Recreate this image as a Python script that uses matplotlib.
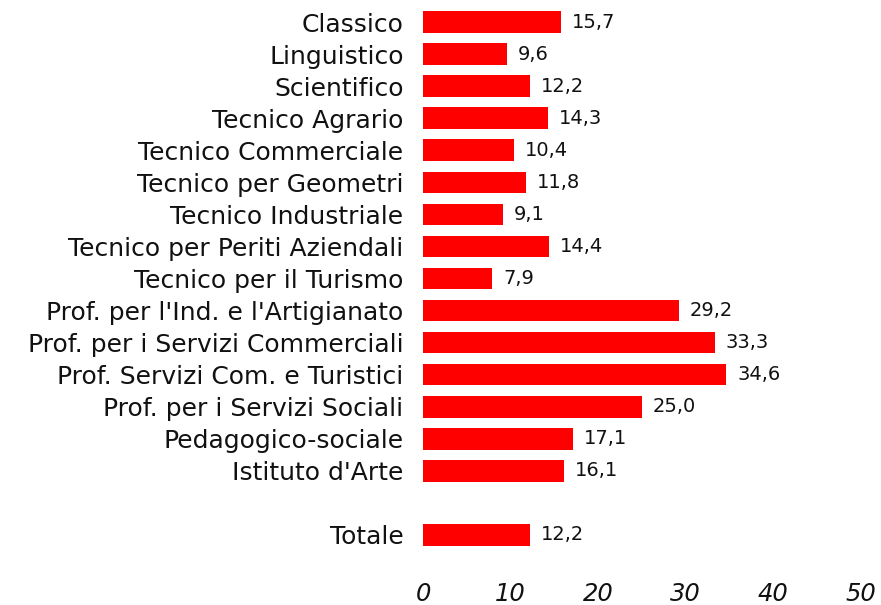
import numpy as np
import matplotlib
matplotlib.use("Agg")
import matplotlib.pyplot as plt

categories = ["Classico", "Linguistico", "Scientifico", "Tecnico Agrario",
              "Tecnico Commerciale", "Tecnico per Geometri", "Tecnico Industriale",
              "Tecnico per Periti Aziendali", "Tecnico per il Turismo",
              "Prof. per l'Ind. e l'Artigianato", "Prof. per i Servizi Commerciali",
              "Prof. Servizi Com. e Turistici", "Prof. per i Servizi Sociali",
              "Pedagogico-sociale", "Istituto d'Arte"]
values = [15.7, 9.6, 12.2, 14.3, 10.4, 11.8, 9.1, 14.4, 7.9,
          29.2, 33.3, 34.6, 25.0, 17.1, 16.1]
total_label = "Totale"
total_value = 12.2
xticks = [0, 10, 20, 30, 40, 50]

labels = categories + [total_label]
vals = values + [total_value]
ypos = list(range(len(categories))) + [len(categories) + 1]

fig = plt.figure(figsize=(8.81, 6.05), dpi=100)
ax = fig.add_axes([423 / 881, 1 - 554 / 605, (861 - 423) / 881, (554 - 3) / 605])

ax.barh(ypos, vals, height=0.68, color="#ff0000")
for y, v in zip(ypos, vals):
    ax.text(v + 1.25, y, f"{v:.1f}".replace(".", ","), va="center", ha="left",
            fontsize=14, color="#111111")

ax.set_xlim(0, 50)
ax.set_ylim(16.6, -0.6)
ax.set_yticks(ypos)
ax.set_yticklabels(labels, fontsize=18, color="#111111")
ax.set_xticks(xticks)
ax.set_xticklabels([str(t) for t in xticks], fontsize=17.5, style="italic", color="#111111")
ax.tick_params(axis="y", length=0, pad=14)
ax.tick_params(axis="x", length=0, pad=20)
for s in ax.spines.values():
    s.set_visible(False)

fig.savefig("out.png", dpi=100)
